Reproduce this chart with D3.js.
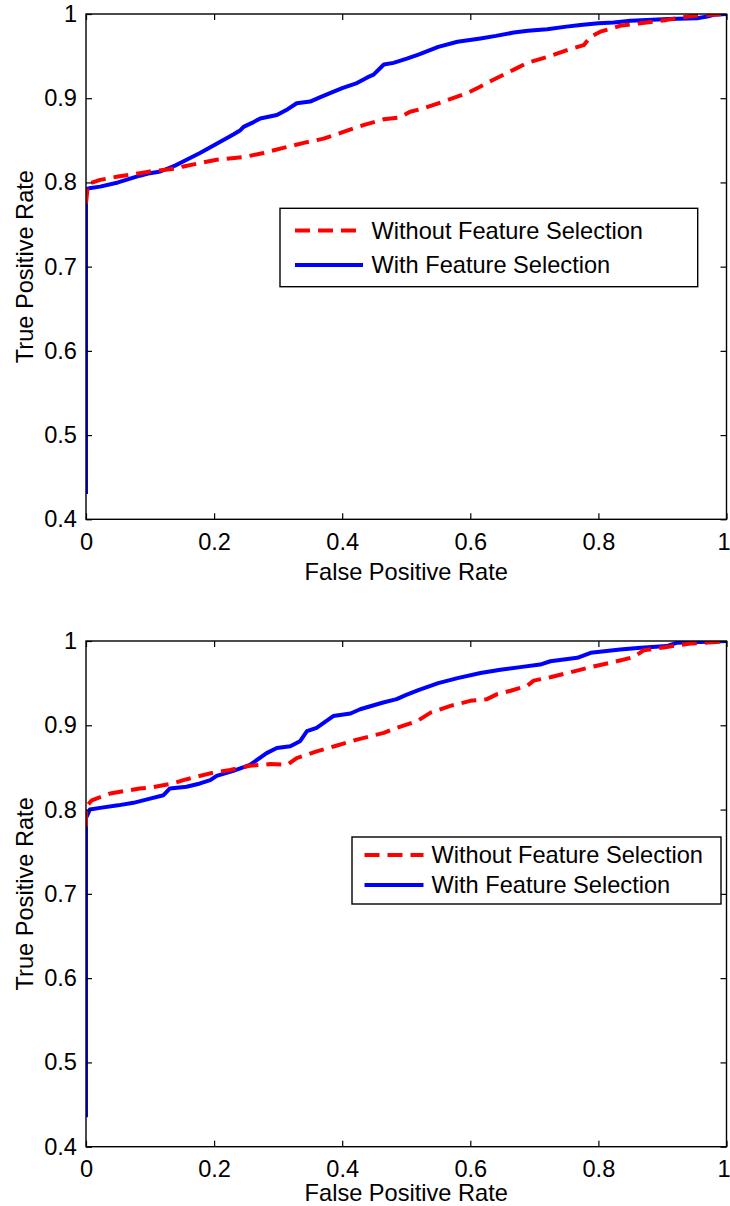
<!DOCTYPE html>
<html>
<head>
<meta charset="utf-8">
<script src="https://cdn.jsdelivr.net/npm/d3@7"></script>
<style>
  html, body { margin: 0; padding: 0; background: #fff; }
  svg { display: block; }
  text { font-family: "Liberation Sans", Arial, Helvetica, sans-serif; fill: #000; }
</style>
</head>
<body>
<svg id="chart" width="730" height="1206"></svg>
<script>
// ROC curves: [false positive rate, true positive rate]
const seriesNames = ["Without Feature Selection", "With Feature Selection"];

const topWithout = [
  [0,0.775],[0.003,0.798],[0.022,0.803],[0.05,0.807],[0.084,0.811],[0.1,0.813],[0.147,0.817],
  [0.152,0.819],[0.204,0.827],[0.246,0.83],[0.277,0.835],[0.308,0.841],[0.34,0.847],[0.371,0.852],
  [0.402,0.86],[0.433,0.868],[0.465,0.875],[0.49,0.877],[0.506,0.884],[0.527,0.888],[0.558,0.896],
  [0.595,0.906],[0.616,0.914],[0.636,0.922],[0.668,0.934],[0.689,0.942],[0.72,0.949],[0.751,0.957],
  [0.777,0.963],[0.788,0.973],[0.803,0.979],[0.834,0.986],[0.866,0.989],[0.907,0.993],[0.949,0.998],[1,1]
];
const topWith = [
  [0,0.43],[0,0.792],[0.005,0.793],[0.022,0.795],[0.05,0.8],[0.084,0.808],[0.1,0.811],[0.116,0.813],
  [0.139,0.82],[0.147,0.823],[0.178,0.835],[0.204,0.846],[0.23,0.857],[0.241,0.862],[0.246,0.866],
  [0.26,0.871],[0.272,0.876],[0.298,0.88],[0.315,0.887],[0.329,0.894],[0.35,0.896],[0.365,0.901],
  [0.381,0.906],[0.4,0.912],[0.423,0.918],[0.44,0.925],[0.449,0.928],[0.465,0.94],[0.48,0.942],
  [0.501,0.947],[0.52,0.952],[0.55,0.961],[0.58,0.967],[0.616,0.971],[0.64,0.974],[0.668,0.978],
  [0.69,0.98],[0.72,0.982],[0.75,0.985],[0.772,0.987],[0.8,0.989],[0.824,0.99],[0.85,0.992],
  [0.876,0.993],[0.91,0.994],[0.954,0.995],[0.97,0.997],[0.98,0.999],[1,1]
];
const bottomWithout = [
  [0,0.78],[0,0.803],[0.009,0.811],[0.0375,0.819],[0.084,0.825],[0.1,0.826],[0.136,0.831],
  [0.152,0.835],[0.194,0.843],[0.225,0.847],[0.256,0.852],[0.288,0.854],[0.314,0.853],[0.329,0.861],
  [0.36,0.869],[0.392,0.876],[0.423,0.883],[0.465,0.891],[0.485,0.897],[0.517,0.905],[0.538,0.915],
  [0.569,0.923],[0.6,0.929],[0.626,0.931],[0.642,0.937],[0.663,0.941],[0.689,0.947],[0.699,0.953],
  [0.725,0.957],[0.762,0.964],[0.788,0.969],[0.824,0.975],[0.855,0.981],[0.871,0.989],[0.907,0.993],
  [0.944,0.997],[0.99,0.999],[1,1]
];
const bottomWith = [
  [0,0.435],[0,0.79],[0.006,0.8],[0.022,0.802],[0.05,0.805],[0.074,0.808],[0.1,0.813],[0.121,0.817],
  [0.131,0.825],[0.157,0.827],[0.178,0.831],[0.194,0.835],[0.204,0.84],[0.23,0.846],[0.256,0.853],
  [0.282,0.867],[0.298,0.873],[0.319,0.875],[0.334,0.881],[0.345,0.893],[0.36,0.897],[0.386,0.911],
  [0.413,0.914],[0.428,0.919],[0.464,0.927],[0.485,0.931],[0.5,0.936],[0.52,0.942],[0.55,0.95],
  [0.58,0.956],[0.616,0.962],[0.647,0.966],[0.678,0.969],[0.709,0.972],[0.725,0.976],[0.767,0.98],
  [0.788,0.986],[0.834,0.99],[0.866,0.992],[0.907,0.994],[0.923,0.998],[0.97,0.999],[1,1]
];

const xTicks = [0, 0.2, 0.4, 0.6, 0.8, 1];
const yTicks = [0.4, 0.5, 0.6, 0.7, 0.8, 0.9, 1];
const xDomain = [0, 1];
const yDomain = [0.4, 1];
const xTitle = "False Positive Rate";
const yTitle = "True Positive Rate";

// Panel geometry and legend placement
const panels = [
  { without: topWithout, with: topWith,
    left: 86, right: 726.5, top: 14, bottom: 519.3, xTitleY: 580,
    legend: { x0: 280, y0: 208.3, x1: 697.7, y1: 286.7, lineX0: 295, lineX1: 363, textX: 371.5, rows: [230.5, 265] } },
  { without: bottomWithout, with: bottomWith,
    left: 86, right: 726.5, top: 641, bottom: 1146.7, xTitleY: 1201,
    legend: { x0: 352, y0: 837, x1: 721, y1: 904, lineX0: 364.5, lineX1: 423.5, textX: 431.5, rows: [855, 885] } }
];

const fontSize = 23.6;
const red = "#ff0000", blue = "#0000ff";
const svg = d3.select("#chart");

const fmt = d => (d === 0 || d === 1) ? String(d) : d.toFixed(1);

panels.forEach((p, i) => {
  const x = d3.scaleLinear().domain(xDomain).range([p.left, p.right]);
  const y = d3.scaleLinear().domain(yDomain).range([p.bottom, p.top]);
  const g = svg.append("g");

  const clipId = "clip" + i;
  svg.append("clipPath").attr("id", clipId)
    .append("rect")
    .attr("x", p.left).attr("y", p.top)
    .attr("width", p.right - p.left).attr("height", p.bottom - p.top);

  const line = d3.line().x(d => x(d[0])).y(d => y(d[1]));
  const curves = g.append("g").attr("clip-path", `url(#${clipId})`);

  curves.append("path").datum(p.with)
    .attr("d", line).attr("fill", "none")
    .attr("stroke", blue).attr("stroke-width", 4)
    .attr("stroke-linejoin", "round");

  curves.append("path").datum(p.without)
    .attr("d", line).attr("fill", "none")
    .attr("stroke", red).attr("stroke-width", 4)
    .attr("stroke-dasharray", "15,8")
    .attr("stroke-linejoin", "round");

  // Axes with inward ticks on all four sides
  const styleAxis = sel => {
    sel.select(".domain").remove();
    sel.selectAll(".tick line").attr("stroke", "#000").attr("stroke-width", 1.2);
    sel.selectAll(".tick text")
      .style("font-family", '"Liberation Sans", Arial, Helvetica, sans-serif')
      .style("font-size", fontSize + "px").attr("fill", "#000");
  };

  const bottomAxis = g.append("g").attr("transform", `translate(0,${p.bottom})`)
    .call(d3.axisBottom(x).tickValues(xTicks).tickFormat(fmt).tickSize(-6).tickPadding(14))
    .call(styleAxis);
  // keep the last label inside the page edge
  bottomAxis.selectAll(".tick text").filter(d => d === 1).attr("dx", -3);

  g.append("g").attr("transform", `translate(0,${p.top})`)
    .call(d3.axisTop(x).tickValues(xTicks).tickFormat("").tickSize(-6))
    .call(styleAxis);
  g.append("g").attr("transform", `translate(${p.left},0)`)
    .call(d3.axisLeft(y).tickValues(yTicks).tickFormat(fmt).tickSize(-6).tickPadding(9))
    .call(styleAxis);
  g.append("g").attr("transform", `translate(${p.right},0)`)
    .call(d3.axisRight(y).tickValues(yTicks).tickFormat("").tickSize(-6))
    .call(styleAxis);

  g.append("rect")
    .attr("x", p.left).attr("y", p.top)
    .attr("width", p.right - p.left).attr("height", p.bottom - p.top)
    .attr("fill", "none").attr("stroke", "#000").attr("stroke-width", 1.4);

  // Axis titles
  g.append("text")
    .attr("x", (p.left + p.right) / 2).attr("y", p.xTitleY)
    .attr("text-anchor", "middle").style("font-size", fontSize + "px")
    .text(xTitle);
  g.append("text")
    .attr("transform", `translate(33,${(p.top + p.bottom) / 2}) rotate(-90)`)
    .attr("text-anchor", "middle").style("font-size", fontSize + "px")
    .text(yTitle);

  // Legend
  const L = p.legend;
  const lg = g.append("g");
  lg.append("rect")
    .attr("x", L.x0).attr("y", L.y0)
    .attr("width", L.x1 - L.x0).attr("height", L.y1 - L.y0)
    .attr("fill", "#fff").attr("stroke", "#000").attr("stroke-width", 1.4);
  const items = [
    { name: seriesNames[0], color: red, dash: "15,8" },
    { name: seriesNames[1], color: blue, dash: null }
  ];
  items.forEach((it, k) => {
    const cy = L.rows[k];
    lg.append("line")
      .attr("x1", L.lineX0).attr("x2", L.lineX1)
      .attr("y1", cy).attr("y2", cy)
      .attr("stroke", it.color).attr("stroke-width", 4)
      .attr("stroke-dasharray", it.dash);
    lg.append("text")
      .attr("x", L.textX).attr("y", cy).attr("dy", "0.36em")
      .style("font-size", fontSize + "px")
      .text(it.name);
  });
});
</script>
</body>
</html>
